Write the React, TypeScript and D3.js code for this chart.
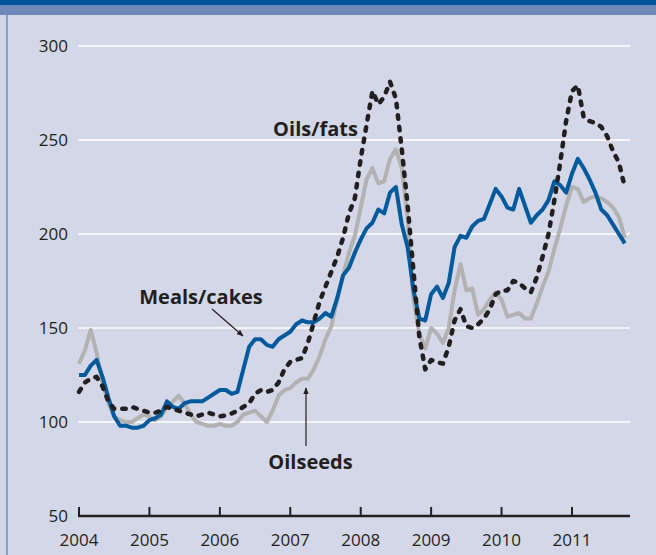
import React, { useEffect } from "react";
import * as d3 from "d3";

const startYear = 2004;
const yearTicks = [2004, 2005, 2006, 2007, 2008, 2009, 2010, 2011];
const valueTicks = [50, 100, 150, 200, 250, 300];

// Monthly indices, Jan 2004 .. Oct 2011
const mealsCakes = [
  125, 125, 130, 133, 124, 113, 103, 98, 98, 97, 97, 98,
  101, 102, 104, 111, 108, 107, 110, 111, 111, 111, 113, 115,
  117, 117, 115, 116, 128, 140, 144, 144, 141, 140, 144, 146,
  148, 152, 154, 153, 153, 155, 158, 156, 166, 178, 182, 190,
  197, 203, 206, 213, 211, 222, 225, 205, 193, 170, 155, 154,
  168, 172, 166, 174, 193, 199, 198, 204, 207, 208, 216, 224,
  220, 214, 213, 224, 215, 206, 210, 213, 218, 228, 226, 222,
  232, 240, 235, 229, 222, 213, 210, 205, 200, 195,
];

const oilsFats = [
  116, 121, 123, 124, 119, 111, 107, 107, 107, 108, 107, 106,
  105, 105, 106, 108, 107, 106, 105, 104, 103, 104, 105, 104,
  103, 103.5, 104.5, 106, 108, 110, 115, 117, 116, 117, 121, 128,
  132, 133, 134, 142, 153, 164, 172, 180, 188, 198, 211, 219,
  240, 258, 276, 269, 273, 281, 272, 245, 215, 180, 145, 128,
  133, 132, 131, 140, 154, 160, 151, 150, 152, 155, 160, 168,
  170, 170, 175, 174, 171, 169, 177, 188, 200, 218, 238, 260,
  276, 279, 262, 260, 259, 257, 252, 244, 238, 225,
];

const oilseeds = [
  131, 138, 149, 137, 121, 110, 103, 101, 100, 100, 102, 104,
  103, 101, 103, 108, 111, 114, 110, 104, 100, 99, 98, 98,
  99, 98, 98, 100, 104, 105, 106, 103, 100, 106, 114, 117,
  118, 121, 123, 123, 128, 135, 144, 151, 165, 178, 190, 199,
  214, 229, 235, 227, 228, 240, 245, 235, 208, 165, 147, 139,
  150, 147, 142, 150, 170, 184, 170, 171, 157, 160, 165, 169,
  165, 156, 157, 158, 155, 155, 163, 172, 180, 192, 203, 215,
  225, 224, 217, 219, 220, 219, 217, 214, 209, 198,
];

const W = 656;
const H = 555;
const FONT = "'Open Sans', 'DejaVu Sans', sans-serif";
const INK = "#231f20";

export default function App() {
  useEffect(() => {
    document.body.style.margin = "0";
  }, []);

  const x = d3.scaleLinear().domain([2004, 2012]).range([79, 642.4]);
  const y = d3.scaleLinear().domain([50, 300]).range([516, 46]);

  const line = d3
    .line<number>()
    .x((_, i) => x(startYear + i / 12))
    .y((d) => y(d))
    .curve(d3.curveLinear);

  const gridValues = valueTicks.filter((v) => v !== 50);

  return (
    <svg width={W} height={H} style={{ display: "block", position: "absolute", left: 0, top: 0 }}>
      <defs>
        <marker id="arr" viewBox="0 0 10 10" refX="9" refY="5" markerWidth="7" markerHeight="7" orient="auto-start-reverse" markerUnits="userSpaceOnUse">
          <path d="M0,1 L10,5 L0,9 z" fill={INK} />
        </marker>
      </defs>
      <rect x={0} y={0} width={W} height={H} fill="#d3d7e8" />
      <rect x={0} y={0} width={W} height={5} fill="#00559b" />
      <rect x={0} y={5} width={W} height={10} fill="#7088b9" />
      <line x1={7} x2={7} y1={15} y2={H} stroke="#5b80a8" strokeWidth={1.2} />

      {gridValues.map((v) => (
        <line key={v} x1={78} x2={630} y1={y(v)} y2={y(v)} stroke="#ffffff" strokeWidth={1.6} />
      ))}
      {valueTicks.map((v) => (
        <text key={v} x={68} y={y(v) + 6} textAnchor="end" fontFamily={FONT} fontSize={17} fill={INK}>
          {v}
        </text>
      ))}

      <line x1={78} x2={630} y1={y(50)} y2={y(50)} stroke={INK} strokeWidth={2.5} />
      {yearTicks.map((t) => (
        <g key={t}>
          <line x1={x(t)} x2={x(t)} y1={y(50)} y2={y(50) - 9} stroke={INK} strokeWidth={2} />
          <text x={x(t)} y={y(50) + 30} textAnchor="middle" fontFamily={FONT} fontSize={17} fill={INK}>
            {t}
          </text>
        </g>
      ))}

      <path d={line(oilseeds) || ""} fill="none" stroke="#b2b2b2" strokeWidth={4} strokeLinejoin="round" />
      <path d={line(mealsCakes) || ""} fill="none" stroke="#005a9c" strokeWidth={4} strokeLinejoin="round" />
      <path d={line(oilsFats) || ""} fill="none" stroke={INK} strokeWidth={4.5} strokeDasharray="3.5 8" strokeLinecap="round" strokeLinejoin="round" />

      <text x={315.5} y={136} textAnchor="middle" fontFamily={FONT} fontWeight="bold" fontSize={20} fill={INK}>
        Oils/fats
      </text>
      <text x={201} y={304} textAnchor="middle" fontFamily={FONT} fontWeight="bold" fontSize={20} fill={INK}>
        Meals/cakes
      </text>
      <line x1={212} y1={309} x2={243} y2={336} stroke={INK} strokeWidth={1.2} markerEnd="url(#arr)" />
      <text x={310.5} y={469} textAnchor="middle" fontFamily={FONT} fontWeight="bold" fontSize={20} fill={INK}>
        Oilseeds
      </text>
      <line x1={306} y1={446} x2={306} y2={388} stroke={INK} strokeWidth={1.2} markerEnd="url(#arr)" />
    </svg>
  );
}
